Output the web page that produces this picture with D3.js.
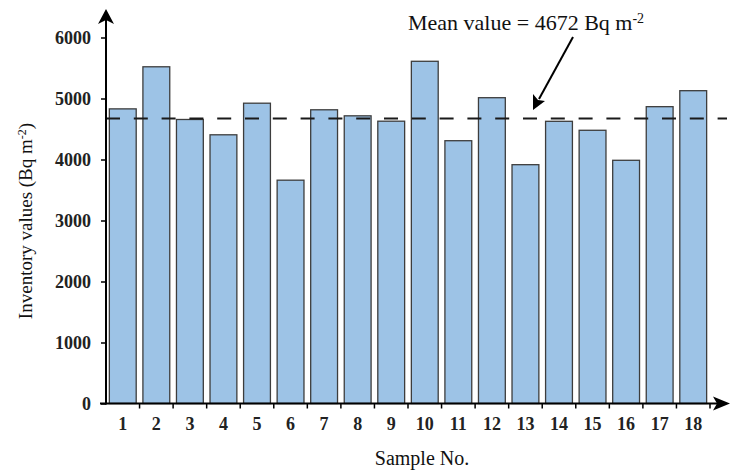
<!DOCTYPE html>
<html>
<head>
<meta charset="utf-8">
<script src="https://cdn.jsdelivr.net/npm/d3@7"></script>
<style>
  body { margin: 0; background: #fff; }
  text { font-family: "Liberation Serif", "Times New Roman", serif; }
</style>
</head>
<body>
<svg id="chart" width="733" height="472"></svg>
<script>
// data
const samples = d3.range(1, 19).map(String)
const inventory = [4830, 5520, 4656, 4405, 4923, 3661, 4815, 4716, 4628, 5610, 4308, 5013, 3915, 4626, 4479, 3987, 4866, 5128]
const meanValue = 4672
const yTicks = [0, 1000, 2000, 3000, 4000, 5000, 6000]

const svg = d3.select("#chart")
const x0 = 106, x1 = 710, yBase = 403.5, yTop = 37.5
const serif = '"Liberation Serif", "Times New Roman", serif'

const x = d3.scaleBand().domain(samples).range([x0, x1]).paddingInner(0.2).paddingOuter(0.1)
const y = d3.scaleLinear().domain([0, 6000]).range([yBase, yTop])

// bars
svg.append("g")
  .selectAll("rect")
  .data(samples)
  .join("rect")
  .attr("x", d => x(d))
  .attr("y", (d, i) => y(inventory[i]))
  .attr("width", x.bandwidth())
  .attr("height", (d, i) => yBase - y(inventory[i]))
  .style("fill", "#9dc3e6")
  .style("stroke", "#3d3d3d")
  .style("stroke-width", 1.3)

// mean line
svg.append("line")
  .attr("x1", x0).attr("x2", 727)
  .attr("y1", y(meanValue)).attr("y2", y(meanValue))
  .style("stroke", "#1a1a1a")
  .style("stroke-width", 2)
  .style("stroke-dasharray", "14,13.8")

// y axis
const yAxis = svg.append("g")
  .attr("transform", `translate(${x0},0)`)
  .call(d3.axisLeft(y).tickValues(yTicks).tickSize(5).tickPadding(10).tickFormat(d3.format("d")))
yAxis.attr("font-family", serif)
yAxis.select(".domain").remove()
yAxis.selectAll(".tick line").style("stroke", "#000").style("stroke-width", 1.5)
yAxis.selectAll(".tick text")
  .style("font-family", serif)
  .style("font-size", "18px").style("font-weight", "bold").style("fill", "#222")
  .attr("dy", "0.35em")

svg.append("line")
  .attr("x1", x0).attr("x2", x0).attr("y1", yBase + 1).attr("y2", 20)
  .style("stroke", "#000").style("stroke-width", 2)
svg.append("path")
  .attr("d", `M${x0},9 L${x0 + 8},24 L${x0},20 L${x0 - 8},24 Z`)
  .style("fill", "#000")

// x axis
svg.append("line")
  .attr("x1", x0 - 6).attr("x2", 720).attr("y1", yBase).attr("y2", yBase)
  .style("stroke", "#000").style("stroke-width", 2)
svg.append("path")
  .attr("d", `M730,${yBase} L713,${yBase - 7} L717,${yBase} L713,${yBase + 7} Z`)
  .style("fill", "#000")

const step = x.step()
svg.append("g")
  .selectAll("line")
  .data(samples)
  .join("line")
  .attr("x1", d => x(d) + x.bandwidth() + step * 0.1)
  .attr("x2", d => x(d) + x.bandwidth() + step * 0.1)
  .attr("y1", yBase)
  .attr("y2", yBase + 5)
  .style("stroke", "#000").style("stroke-width", 1.5)

svg.append("g")
  .selectAll("text")
  .data(samples)
  .join("text")
  .attr("x", d => x(d) + x.bandwidth() / 2)
  .attr("y", 430)
  .attr("text-anchor", "middle")
  .style("font-size", "18px").style("font-weight", "bold").style("fill", "#222")
  .text(d => d)

// axis titles
svg.append("text")
  .attr("x", 422).attr("y", 465)
  .attr("text-anchor", "middle")
  .style("font-size", "20px").style("fill", "#111")
  .text("Sample No.")

const yTitle = svg.append("text")
  .attr("transform", "translate(32,221) rotate(-90)")
  .attr("text-anchor", "middle")
  .style("font-size", "19px").style("fill", "#111")
yTitle.append("tspan").text("Inventory values (Bq m")
yTitle.append("tspan").attr("dy", -6).style("font-size", "12px").text("-2")
yTitle.append("tspan").attr("dy", 6).text(")")

// annotation
const note = svg.append("text")
  .attr("x", 408).attr("y", 30)
  .style("font-size", "22px").style("fill", "#111")
note.append("tspan").text(`Mean value = ${meanValue} Bq m`)
note.append("tspan").attr("dy", -7).style("font-size", "14px").text("-2")

svg.append("line")
  .attr("x1", 573).attr("y1", 37).attr("x2", 539).attr("y2", 99)
  .style("stroke", "#000").style("stroke-width", 2)
svg.append("path")
  .attr("d", "M533,110 L533,94 L538,100 L545,101 Z")
  .style("fill", "#000")
</script>
</body>
</html>
